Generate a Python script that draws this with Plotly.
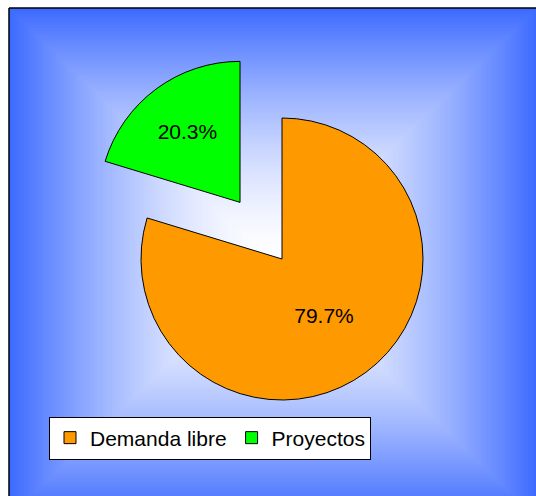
import plotly.graph_objects as go

# ---- data ----
labels = ["Demanda libre", "Proyectos"]
values = [79.7, 20.3]
colors = ["#FF9900", "#00FF00"]
pulls = [0, 0.5]

W, H = 536, 496

def px_x(x):
    return x / W

def px_y(y):
    return 1 - y / H

fig = go.Figure()

fig.add_trace(go.Pie(
    labels=labels,
    values=values,
    sort=False,
    direction="clockwise",
    rotation=0,
    pull=pulls,
    marker=dict(colors=colors, line=dict(color="black", width=1)),
    texttemplate="%{percent:.1%}",
    textposition="inside",
    insidetextorientation="horizontal",
    textfont=dict(family="Liberation Sans, Arial, sans-serif", size=21, color="black"),
    hoverinfo="label+percent",
    domain=dict(x=[px_x(70.5), px_x(493.5)], y=[px_y(470.5), px_y(47.5)]),
))

# ---- background: rectangular gradient (white centre -> blue edges) ----
cx, cy = 273, 263
hw, hh = 264, 255
blue = (61, 107, 255)
N = 90
shapes = []
for i in range(N):
    t = 1 - i / N
    f = t ** 1.6
    r = round(255 + (blue[0] - 255) * f)
    g = round(255 + (blue[1] - 255) * f)
    b = round(255 + (blue[2] - 255) * f)
    shapes.append(dict(
        type="rect", xref="paper", yref="paper", layer="below",
        x0=px_x(cx - hw * t), x1=px_x(cx + hw * t + (20 if i == 0 else 0)),
        y0=px_y(cy + hh * t + (20 if i == 0 else 0)), y1=px_y(cy - hh * t),
        fillcolor=f"rgb({r},{g},{b})", line=dict(width=0),
    ))
# frame: only the left and top edges fall inside the picture
shapes.append(dict(
    type="line", xref="paper", yref="paper", layer="below",
    x0=px_x(cx - hw), x1=px_x(cx - hw), y0=px_y(H), y1=px_y(cy - hh),
    line=dict(color="black", width=1.5),
))
shapes.append(dict(
    type="line", xref="paper", yref="paper", layer="below",
    x0=px_x(cx - hw), x1=px_x(W), y0=px_y(cy - hh), y1=px_y(cy - hh),
    line=dict(color="black", width=1.5),
))

fig.update_layout(
    width=W, height=H,
    margin=dict(l=0, r=0, t=0, b=0),
    paper_bgcolor="white",
    plot_bgcolor="white",
    shapes=shapes,
    showlegend=True,
    legend=dict(
        orientation="h",
        x=px_x(49), y=px_y(416.5), xanchor="left", yanchor="top",
        bgcolor="white", bordercolor="black", borderwidth=1,
        font=dict(family="Liberation Sans, Arial, sans-serif", size=21, color="black"),
        traceorder="normal",
    ),
)

fig.write_html(
    "out.html",
    config={"displayModeBar": False},
    post_script=(
        "document.documentElement.style.overflow='hidden';"
        "document.body.style.margin='0';"
        "document.body.style.overflow='hidden';"
    ),
)
